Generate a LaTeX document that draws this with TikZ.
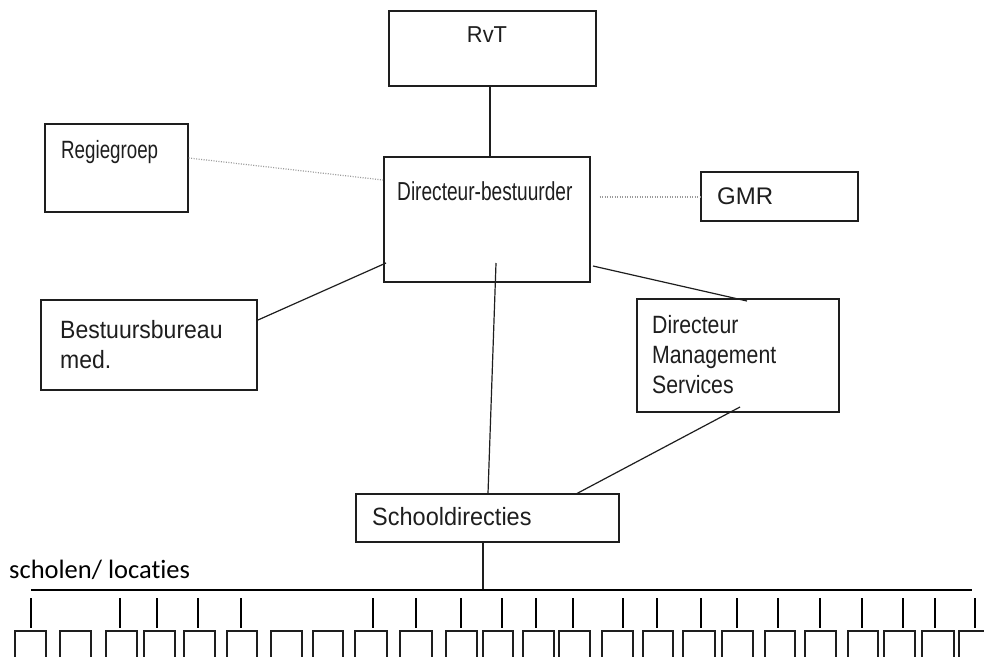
\documentclass[tikz,border=0pt]{standalone}
\usepackage{fontspec}
\setmainfont{Liberation Sans}
\newfontfamily\calfont[Ligatures={NoCommon,NoRequired}]{Carlito}
\usetikzlibrary{fit,calc}
\definecolor{linec}{HTML}{1E1E1E}
\definecolor{dotc}{HTML}{9A9A9A}
\tikzset{
  box/.style={draw=linec, line width=1.3pt, inner sep=0pt},
  conn/.style={draw=linec, line width=1.2pt},
  dotconn/.style={draw=dotc, line width=1.2pt, dash pattern=on 1pt off 1.5pt},
  lbl/.style={anchor=base west, inner sep=0pt, text=linec},
  tick/.style={draw=black, line width=1.5pt},
  sbox/.style={draw=linec, line width=1.3pt, inner sep=0pt}
}
\newcommand\fs[1]{\fontsize{#1}{#1}\selectfont}
\begin{document}
\begin{tikzpicture}[x=1pt,y=-1pt]
\clip (0,0) rectangle (984,656);
\fill[white] (0,0) rectangle (984,656);
% boxes
\node[box,fit={(389,11)(596,86)}] (rvt) {};
\node[box,fit={(45,124)(188,212)}] (regie) {};
\node[box,fit={(384,157)(590,282)}] (dir) {};
\node[box,fit={(701,172)(858,221)}] (gmr) {};
\node[box,fit={(41,300)(257,390)}] (bb) {};
\node[box,fit={(637,299)(839,412)}] (dms) {};
\node[box,fit={(356,494)(619,542)}] (school) {};
% labels
\node[anchor=base, inner sep=0pt, text=linec, font=\fs{23}] (trvt) at (487,42) {\scalebox{0.95}[1]{RvT}};
\node[lbl, font=\fs{25}] (tregie) at (61,158) {\scalebox{0.75}[1]{Regiegroep}};
\node[lbl, font=\fs{26}] (tdir) at (397,200) {\scalebox{0.735}[1]{Directeur-bestuurder}};
\node[lbl, font=\fs{24}] (tgmr) at (717,204) {GMR};
\node[lbl, font=\fs{25}] (tbb1) at (60,338) {\scalebox{0.92}[1]{Bestuursbureau}};
\node[lbl, font=\fs{25}] (tbb2) at (60,368) {\scalebox{0.92}[1]{med.}};
\node[lbl, font=\fs{25}] (tdms1) at (652,333) {\scalebox{0.85}[1]{Directeur}};
\node[lbl, font=\fs{25}] (tdms2) at (652,363) {\scalebox{0.85}[1]{Management}};
\node[lbl, font=\fs{25}] (tdms3) at (652,393) {\scalebox{0.85}[1]{Services}};
\node[lbl, font=\fs{25}] (tschool) at (372,525) {\scalebox{0.94}[1]{Schooldirecties}};
\node[lbl, font=\calfont\fs{26.5}, text=black] (tsch) at (9,578) {scholen/ locaties};
% connectors
\draw[conn] (rvt.south -| 490,0) -- (dir.north -| 490,0);
\draw[dotconn] (regie.east |- 0,158) -- (383,180) coordinate (dirw);
\draw[dotconn] (dir.east |- 0,197) ++(9,0) -- (gmr.west |- 0,197) ++(-5,0);
\coordinate (dbA) at (386,263);
\coordinate (dbB) at (258,320);
\draw[conn] (dbA) -- (dbB);
\coordinate (ddA) at (593,266);
\coordinate (ddB) at (747,301);
\draw[conn] (ddA) -- (ddB);
\coordinate (dsA) at (496,263);
\draw[conn] (dsA) -- (school.north -| 488,0);
\coordinate (msA) at (740,407);
\coordinate (msB) at (576,494);
\draw[conn] (msA) -- (msB);
\coordinate (busL) at (31,590);
\coordinate (busR) at (972,590);
\draw[conn] (school.south -| 483,0) -- (483,590) coordinate (busM);
\draw[draw=black, line width=2.2pt] (busL) -- (busR);
% school boxes
\foreach \l/\r [count=\i] in {15/46,60/91,106/137,144/175,184/215,227/257,271/302,313/343,355/387,400/432,446/477,483/513,523/554,559/590,602/633,643/673,683/715,722/753,765/795,805/836,848/878,884/915,922/954,959/990}{
  \node[sbox,fit={(\l,631)(\r,680)}] (s\i) {};
}
\foreach \x [count=\i] in {31,120,157,198,241,373,416,461,502,536,573,623,657,701,737,778,820,862,903,935,975}{
  \coordinate (ta\i) at (\x,598);
  \coordinate (tb\i) at (\x,628);
  \draw[tick] (ta\i) -- (tb\i);
}
\end{tikzpicture}
\end{document}
